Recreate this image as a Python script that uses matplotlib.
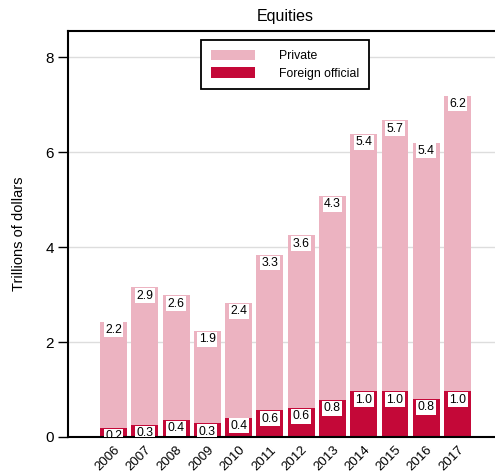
import matplotlib
matplotlib.use('Agg')
import matplotlib.pyplot as plt
import numpy as np

plt.rcParams['font.family'] = ['Liberation Sans', 'DejaVu Sans']

years = ['2006', '2007', '2008', '2009', '2010', '2011',
         '2012', '2013', '2014', '2015', '2016', '2017']
official = [0.19, 0.26, 0.36, 0.29, 0.41, 0.56, 0.61, 0.78, 0.96, 0.96, 0.80, 0.96]
private = [2.24, 2.89, 2.62, 1.94, 2.41, 3.28, 3.64, 4.30, 5.42, 5.71, 5.40, 6.23]

PRIVATE_COLOR = '#ecb3c1'
OFFICIAL_COLOR = '#c40838'

fig = plt.figure(figsize=(4.95, 4.75), dpi=100)
ax = fig.add_axes([68 / 495, 38 / 475, 434 / 495, 406 / 475])

x = np.arange(len(years))
width = 0.86
bars_off = ax.bar(x, official, width, color=OFFICIAL_COLOR, label='Foreign official', zorder=2)
bars_priv = ax.bar(x, private, width, bottom=official, color=PRIVATE_COLOR,
                   label='Private', zorder=2)

label_box = dict(boxstyle='square,pad=0.12', fc='white', ec='none')
for xi, off, prv in zip(x, official, private):
    for top, val in ((off, off), (off + prv, prv)):
        ax.annotate('%.1f' % val, (xi, top), xytext=(0, -6), textcoords='offset points',
                    ha='center', va='center', fontsize=8.8, bbox=label_box,
                    zorder=3, annotation_clip=False, clip_on=True)

ax.set_xlim(-1.455, 12.42)
ax.set_ylim(0, 8.55)
ax.set_yticks([0, 2, 4, 6, 8])
ax.set_xticks(x)
ax.set_xticklabels(years, rotation=45, ha='right', rotation_mode='anchor', fontsize=9.5)
ax.tick_params(axis='x', length=0, pad=5)
ax.tick_params(axis='y', length=7, width=1, labelsize=11, pad=3)
ax.yaxis.grid(True, color='#dddddd', linewidth=1, zorder=0)
ax.set_axisbelow(True)

for side in ('left', 'bottom', 'top'):
    ax.spines[side].set_linewidth(1.5)
ax.spines['right'].set_visible(False)

ax.set_ylabel('Trillions of dollars', fontsize=10.5, labelpad=14)
ax.set_title('Equities', fontsize=11.5, pad=7)

handles = [bars_priv, bars_off]
leg = ax.legend(handles, ['Private', 'Foreign official'], loc='upper center',
                bbox_to_anchor=(0.5, 0.978), fontsize=8.8, fancybox=False,
                framealpha=1, edgecolor='black', handlelength=3.6, handleheight=0.95,
                handletextpad=2.0, borderpad=0.8, labelspacing=0.4, borderaxespad=0)
leg.get_frame().set_linewidth(1.3)

fig.savefig('out.png', dpi=100)
